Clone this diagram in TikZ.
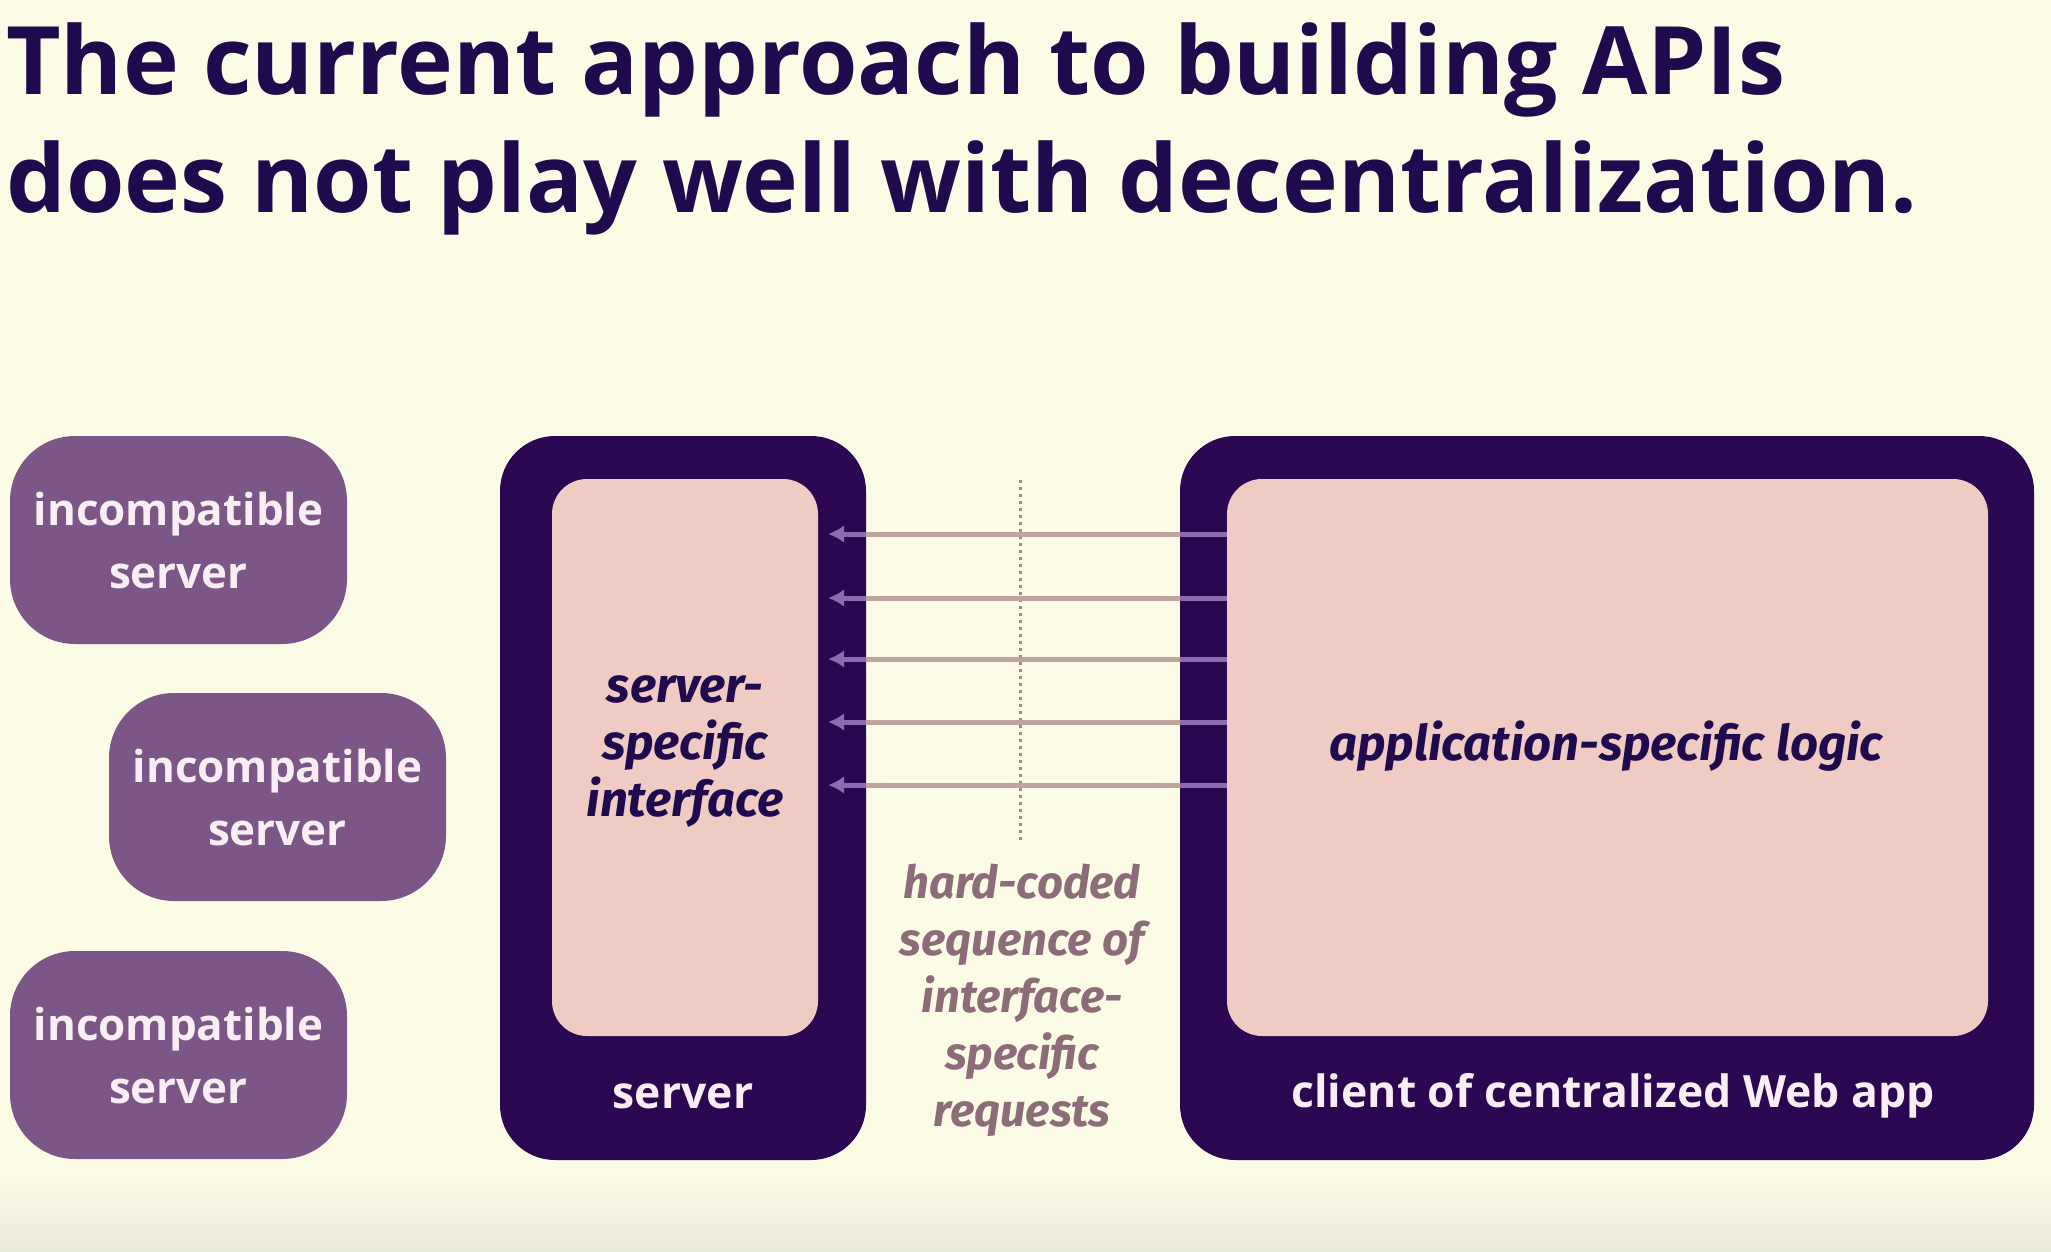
\documentclass[tikz,border=0pt]{standalone}
\usepackage{fontspec}
\setmainfont{Open Sans}
\newfontfamily\itfont{Fira Sans}
\usetikzlibrary{arrows.meta,shadings}
\definecolor{bgc}{HTML}{FBFBE6}
\definecolor{titlec}{HTML}{1F0A4D}
\definecolor{darkc}{HTML}{2B0752}
\definecolor{pinkc}{HTML}{F0CBC3}
\definecolor{incc}{HTML}{7B5686}
\definecolor{inctext}{HTML}{F8EEF4}
\definecolor{tanc}{HTML}{C0A29E}
\definecolor{linepur}{HTML}{8E6BB0}
\definecolor{annc}{HTML}{8C6C78}
\definecolor{dotc}{HTML}{A08C8C}
\tikzset{
  incbox/.style={fill=incc, rounded corners=65pt, minimum width=337pt, minimum height=208pt,
    text=inctext, align=center, font=\bfseries\fontsize{44}{63}\selectfont, inner sep=0pt},
  outerbox/.style={fill=darkc, rounded corners=55pt, inner sep=0pt},
  innerbox/.style={fill=pinkc, rounded corners=35pt, inner sep=0pt},
  itlabel/.style={align=center, font=\itfont\bfseries\itshape\fontsize{49}{57}\selectfont, inner sep=0pt},
  annlabel/.style={align=center, font=\itfont\bfseries\itshape\fontsize{45.5}{57}\selectfont, inner sep=0pt},
  boxlabel/.style={text=inctext, font=\bfseries\fontsize{44.5}{56}\selectfont, inner sep=0pt},
  req/.style={linepur, line width=5pt},
  reqmid/.style={tanc, line width=5pt},
  titletext/.style={anchor=base west, text=titlec, font=\bfseries\fontsize{94.5}{118}\selectfont, inner sep=0pt}
}
\begin{document}
\begin{tikzpicture}[x=1pt,y=-1pt]
\fill[bgc] (0,0) rectangle (2051,1252);
\shade[top color=bgc, bottom color={rgb,255:red,234;green,234;blue,216}] (0,1170) rectangle (2051,1252);
\useasboundingbox (0,0) rectangle (2051,1252);

\node[titletext] (t1) at (6,95) {The current approach to building APIs};
\node[titletext] (t2) at (6,213) {does not play well with decentralization.};

\node[incbox] (inc1) at (178.5,540) {incompatible\\server};
\node[incbox] (inc2) at (277.5,797) {incompatible\\server};
\node[incbox] (inc3) at (178.5,1055) {incompatible\\server};

\node[outerbox, minimum width=366pt, minimum height=724pt] (sout) at (683,798) {};
\node[innerbox, minimum width=266pt, minimum height=557pt] (sin) at (685,757.5) {};
\node[itlabel, text=titlec] (sif) at (685,752) {server-\\specific\\interface};
\node[boxlabel] (slab) at (683,1096) {server};

\node[outerbox, minimum width=854pt, minimum height=724pt] (cout) at (1607,798) {};
\node[innerbox, minimum width=761pt, minimum height=557pt] (cin) at (1607.5,757.5) {};
\node[itlabel, text=titlec] (app) at (1606,746) {application-specific logic};
\node[boxlabel] (clab) at (1613,1096) {client of centralized Web app};

\coordinate (dtop) at (1020,480);
\coordinate (dbot) at (1020,840);
\draw[dotc, line width=3pt, dash pattern=on 3pt off 4pt] (dtop) -- (dbot);

\foreach \i/\yy in {1/534,2/598,3/659,4/722,5/785}{
  \coordinate (c\i) at (cin.west |- 0,\yy);
  \draw[req, -{Latex[length=16pt,width=18pt]}, shorten >=10pt] (c\i) -- (sin.east |- c\i);
  \draw[reqmid] (cout.west |- c\i) -- (sout.east |- c\i);
}

\node[annlabel, text=annc] (ann) at (1022,1000) {hard-coded\\sequence of\\interface-\\specific\\requests};
\end{tikzpicture}
\end{document}
